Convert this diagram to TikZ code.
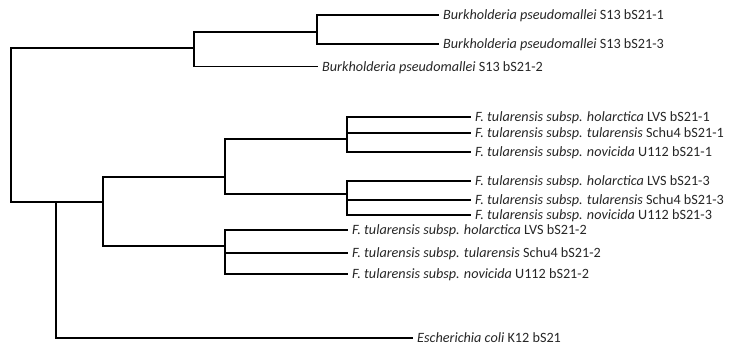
\documentclass[tikz,border=0pt]{standalone}
\usepackage{fontspec}
\setmainfont{Carlito}
\begin{document}
\begin{tikzpicture}[x=1pt,y=-1pt,
  branch/.style={line width=1.8pt,line cap=rect},
  leaf/.style={anchor=west,inner xsep=5pt,inner ysep=0pt,text height=9.3pt,text depth=0pt,
    font=\fontsize{14.2}{16}\selectfont,text=black!85}]
\useasboundingbox (0,0) rectangle (729,347);
% internal nodes
\coordinate (root) at (11,48);
\coordinate (rootb) at (11,202);
\coordinate (A) at (194,48);
\coordinate (B) at (317,32);
\coordinate (F) at (103,202);
\coordinate (E) at (56,202);
\coordinate (F1) at (225,177);
\coordinate (F2) at (225,246);
\coordinate (F1a) at (347,139);
\coordinate (F1b) at (347,194);
% leaves
\node[leaf] (bp1) at (438,15) {\textit{Burkholderia pseudomallei} S13 bS21-1};
\node[leaf] (bp3) at (438,44) {\textit{Burkholderia pseudomallei} S13 bS21-3};
\node[leaf] (bp2) at (317,66.5) {\textit{Burkholderia pseudomallei} S13 bS21-2};
\node[leaf] (h1) at (470,117) {\textit{F. tularensis subsp. holarctica} LVS bS21-1};
\node[leaf] (t1) at (470,133) {\textit{F. tularensis subsp. tularensis} Schu4 bS21-1};
\node[leaf] (n1) at (470,152) {\textit{F. tularensis subsp. novicida} U112 bS21-1};
\node[leaf] (h3) at (470,181) {\textit{F. tularensis subsp. holarctica} LVS bS21-3};
\node[leaf] (t3) at (470,200) {\textit{F. tularensis subsp. tularensis} Schu4 bS21-3};
\node[leaf] (n3) at (470,215) {\textit{F. tularensis subsp. novicida} U112 bS21-3};
\node[leaf] (h2) at (347,230) {\textit{F. tularensis subsp. holarctica} LVS bS21-2};
\node[leaf] (t2) at (347,253) {\textit{F. tularensis subsp. tularensis} Schu4 bS21-2};
\node[leaf] (n2) at (347,274) {\textit{F. tularensis subsp. novicida} U112 bS21-2};
\node[leaf] (ec) at (412,338) {\textit{Escherichia coli} K12 bS21};
% branches
\draw[branch] (rootb) -- (root) -- (A);
\draw[branch] (rootb) -- (F);
\draw[branch] (E) |- (ec.west);
\draw[branch] (A |- B) -- (A |- bp2.west);
\draw[branch] (A |- B) -- (B);
\draw[branch] (A |- bp2.west) -- (bp2.west);
\draw[branch] (B |- bp1.west) -- (B |- bp3.west);
\draw[branch] (B |- bp1.west) -- (bp1.west);
\draw[branch] (B |- bp3.west) -- (bp3.west);
\draw[branch] (F |- F1) -- (F |- F2);
\draw[branch] (F |- F1) -- (F1);
\draw[branch] (F |- F2) -- (F2);
\draw[branch] (F1 |- F1a) -- (F1 |- F1b);
\draw[branch] (F1 |- F1a) -- (F1a);
\draw[branch] (F1 |- F1b) -- (F1b);
\draw[branch] (F1a |- h1.west) -- (F1a |- n1.west);
\draw[branch] (F1a |- h1.west) -- (h1.west);
\draw[branch] (F1a |- t1.west) -- (t1.west);
\draw[branch] (F1a |- n1.west) -- (n1.west);
\draw[branch] (F1b |- h3.west) -- (F1b |- n3.west);
\draw[branch] (F1b |- h3.west) -- (h3.west);
\draw[branch] (F1b |- t3.west) -- (t3.west);
\draw[branch] (F1b |- n3.west) -- (n3.west);
\draw[branch] (F2 |- h2.west) -- (F2 |- n2.west);
\draw[branch] (F2 |- h2.west) -- (h2.west);
\draw[branch] (F2 |- t2.west) -- (t2.west);
\draw[branch] (F2 |- n2.west) -- (n2.west);
\end{tikzpicture}
\end{document}
